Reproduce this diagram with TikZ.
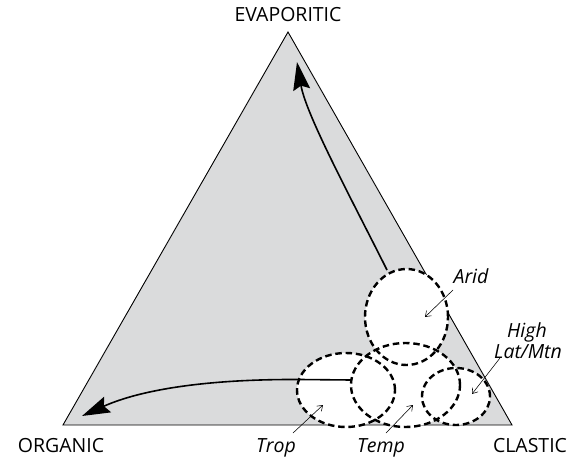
\documentclass[tikz,border=0pt]{standalone}
\usepackage{fontspec}
\setmainfont{Open Sans}
\usetikzlibrary{arrows.meta}
\definecolor{fieldgray}{RGB}{218,219,220}
\tikzset{
  corner/.style={font=\fontsize{19.5}{22}\selectfont, inner sep=0pt, anchor=base},
  zonelabel/.style={font=\fontsize{19.5}{22}\selectfont\itshape, inner sep=0pt, anchor=base},
  zone/.style={line width=2.4pt, dash pattern=on 6.5pt off 3.8pt},
  zonefill/.style={fill=white},
  trend/.style={line width=1.6pt, -{Stealth[length=28pt,width=17pt,inset=4pt]}},
  leader/.style={line width=0.55pt, -{Straight Barb[length=5pt,width=7pt]}}
}
\begin{document}
\begin{tikzpicture}[x=1pt,y=-1pt]
\useasboundingbox (0,0) rectangle (579,458);

% ternary field
\coordinate (E) at (288,32);
\coordinate (O) at (63,425);
\coordinate (C) at (512,425);
\filldraw[fill=fieldgray, draw=black, line width=0.9pt] (O) -- (E) -- (C) -- cycle;

% corner labels
\node[corner] (evap) at (288,21) {EVAPORITIC};
\node[corner] (org) at (61,452) {ORGANIC};
\node[corner] (clas) at (530,452) {CLASTIC};

% climate zones: white fills first, then the dashed outlines
\path[zonefill] (406.5,317) ellipse [x radius=41.5pt, y radius=48pt];
\path[zonefill] (346,390) ellipse [x radius=49pt, y radius=37pt];
\path[zonefill] (405.5,385) ellipse [x radius=54.5pt, y radius=42pt];
\path[zonefill] (456,396.5) ellipse [x radius=34pt, y radius=28.5pt];

\draw[zone] (406.5,317) ellipse [x radius=41.5pt, y radius=48pt];
\draw[zone] (346,390) ellipse [x radius=49pt, y radius=37pt];
\draw[zone] (405.5,385) ellipse [x radius=54.5pt, y radius=42pt];
\draw[zone] (456,396.5) ellipse [x radius=34pt, y radius=28.5pt];

% anchor points on the zone outlines
\coordinate (aridtop) at (387,270);
\coordinate (tempwest) at (351,380);
\coordinate (evaptip) at (297,62);
\coordinate (orgtip) at (82,416);

% trends toward the evaporitic and organic end members
\draw[trend] (aridtop) .. controls (352,200) and (306,115) .. (evaptip);
\draw[trend] (tempwest) -- (300,379.5) .. controls (205,379) and (140,390) .. (orgtip);

% zone labels with leaders
\node[zonelabel] (arid) at (471,283) {Arid};
\node[zonelabel] (high) at (527,337) {High};
\node[zonelabel] (lat) at (528,358) {Lat/Mtn};
\node[zonelabel] (trop) at (276,452) {Trop};
\node[zonelabel] (temp) at (381,452) {Temp};

\coordinate (aridend) at (453,290);
\coordinate (latend) at (500,358);
\coordinate (tropend) at (293,433);
\coordinate (tempend) at (386,433);

\draw[leader] (aridend) -- (425,317);
\draw[leader] (latend) -- (472,394);
\draw[leader] (tropend) -- (323,405);
\draw[leader] (tempend) -- (413,405);
\end{tikzpicture}
\end{document}
